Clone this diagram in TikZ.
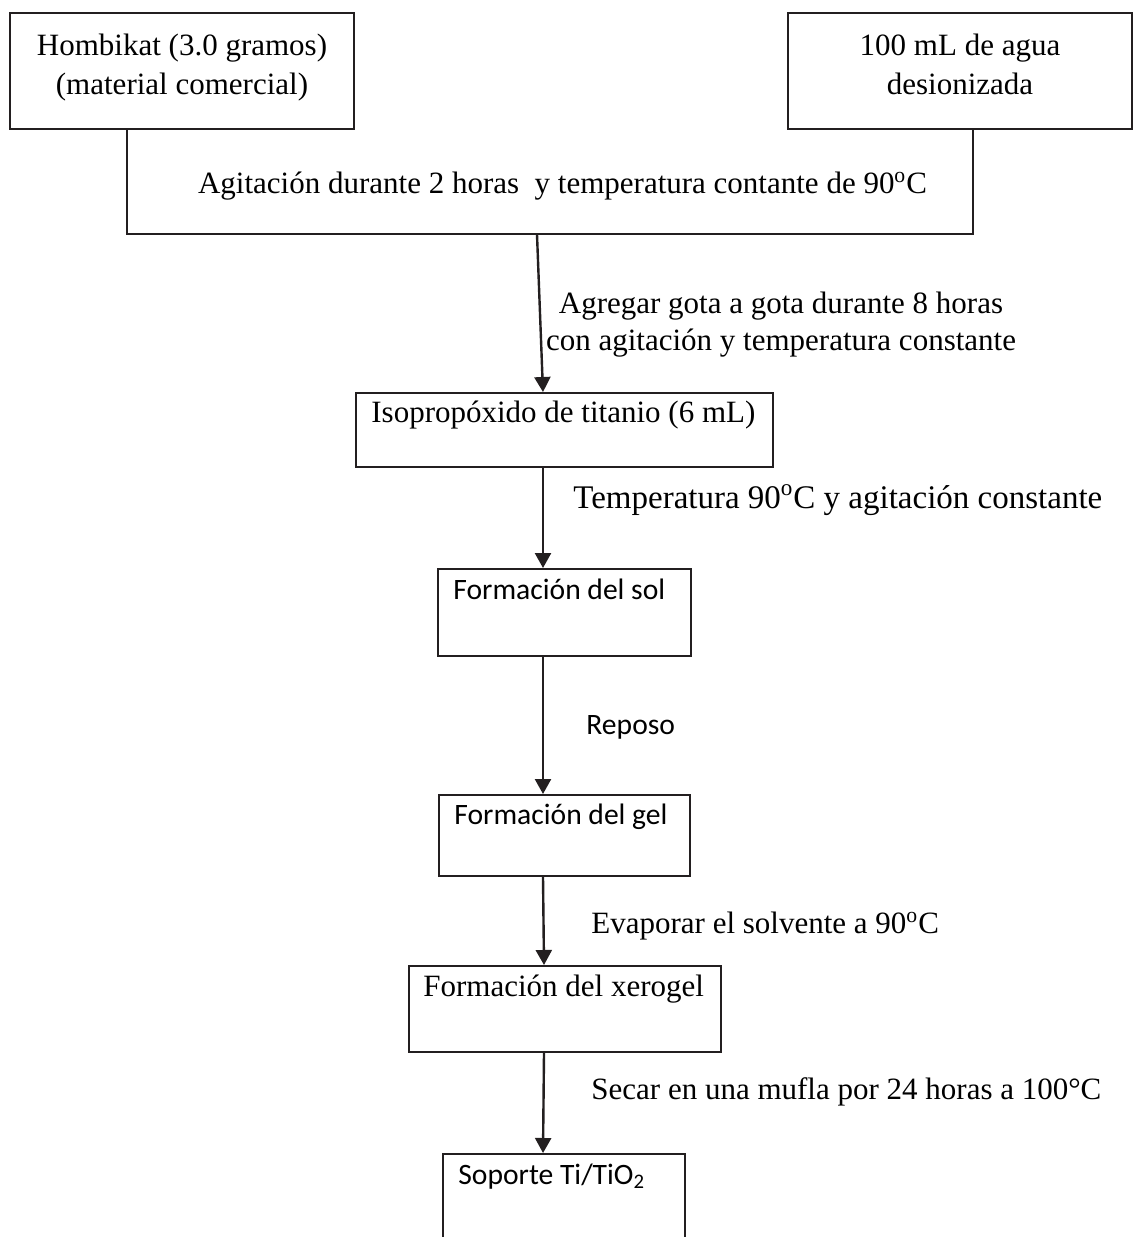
\documentclass[tikz,border=0pt]{standalone}
\usepackage{fontspec}
\setmainfont{Liberation Serif}
\newfontfamily\calibrifont{Carlito}
\usetikzlibrary{arrows.meta}
\definecolor{linegray}{HTML}{231F20}
\tikzset{
  box/.style={draw=linegray, line width=1pt, fill=white, inner sep=0pt},
  flow/.style={draw=linegray, line width=1.2pt, -{Triangle[length=7.5pt,width=8pt]}},
  serif/.style={inner sep=0pt, font=\fontsize{15.5}{19.5}\selectfont},
  sans/.style={inner sep=0pt, font=\calibrifont\fontsize{14.8}{18}\selectfont},
}
\begin{document}
\begin{tikzpicture}[x=0.5pt,y=-0.5pt]
\clip (0,0) rectangle (1134,1237);
% boxes
\node[inner sep=0pt, minimum width=423pt, minimum height=52.5pt] (agit) at (550,181.5) {};
\draw[linegray, line width=1pt] (agit.north west) -- (agit.south west) -- (agit.south east) -- (agit.north east);
\node[box, minimum width=172pt, minimum height=58pt] (hom) at (182,71) {};
\node[box, minimum width=172pt, minimum height=58pt] (agua) at (960,71) {};
\node[box, minimum width=208.5pt, minimum height=37pt] (iso) at (564.5,430) {};
\node[box, minimum width=126.5pt, minimum height=43.5pt] (sol) at (564.5,612.5) {};
\node[box, minimum width=125.5pt, minimum height=40.5pt] (gel) at (564.5,835.5) {};
\node[box, minimum width=156pt, minimum height=43pt] (xer) at (565,1009) {};
\node[box, minimum width=121pt, minimum height=53pt] (sop) at (564,1207) {};
% texts in the boxes
\node[serif, anchor=north, align=center] (homt) at (182,34) {Hombikat (3.0 gramos)\\(material comercial)};
\node[serif, anchor=north, align=center] (aguat) at (960,34) {100 mL de agua\\desionizada};
\node[serif, anchor=base] (agitt) at (562.5,193) {Agitación durante 2 horas\ \ y temperatura contante de 90\textsuperscript{o}C};
\node[serif, anchor=base west] (isot) at (371,422) {Isopropóxido de titanio (6 mL)};
\node[sans, anchor=base west] (solt) at (453,599) {Formación del sol};
\node[sans, anchor=base west] (gelt) at (454,824) {Formación del gel};
\node[serif, anchor=base west] (xert) at (423,996) {Formación del xerogel};
\node[sans, anchor=base west] (sopt) at (458,1184) {Soporte Ti/TiO\textsubscript{2}};
% arrows
\draw[flow] ([xshift=-6.5pt]agit.south) -- ([xshift=-10.75pt]iso.north);
\draw[flow] ([xshift=-10.75pt]iso.south) -- ([xshift=-10.75pt]sol.north);
\draw[flow] ([xshift=-10.75pt]sol.south) -- ([xshift=-10.75pt]gel.north);
\draw[flow] ([xshift=-10.75pt]gel.south) -- ([xshift=-10.5pt]xer.north);
\draw[flow] ([xshift=-10.5pt]xer.south) -- ([xshift=-10.5pt]sop.north);
% labels of the arrows
\node[serif, anchor=north, align=center, font=\fontsize{15.5}{18.5}\selectfont] (agreg) at (781,292) {Agregar gota a gota durante 8 horas\\con agitación y temperatura constante};
\node[serif, anchor=base west, font=\fontsize{16.5}{19.5}\selectfont] (temp) at (573,508) {Temperatura 90\textsuperscript{o}C y agitación constante};
\node[sans, anchor=base west] (repo) at (586,734) {Reposo};
\node[serif, anchor=base west] (evap) at (591,933) {Evaporar el solvente a 90\textsuperscript{o}C};
\node[serif, anchor=base west] (secar) at (591,1099) {Secar en una mufla por 24 horas a 100°C};
\end{tikzpicture}
\end{document}
